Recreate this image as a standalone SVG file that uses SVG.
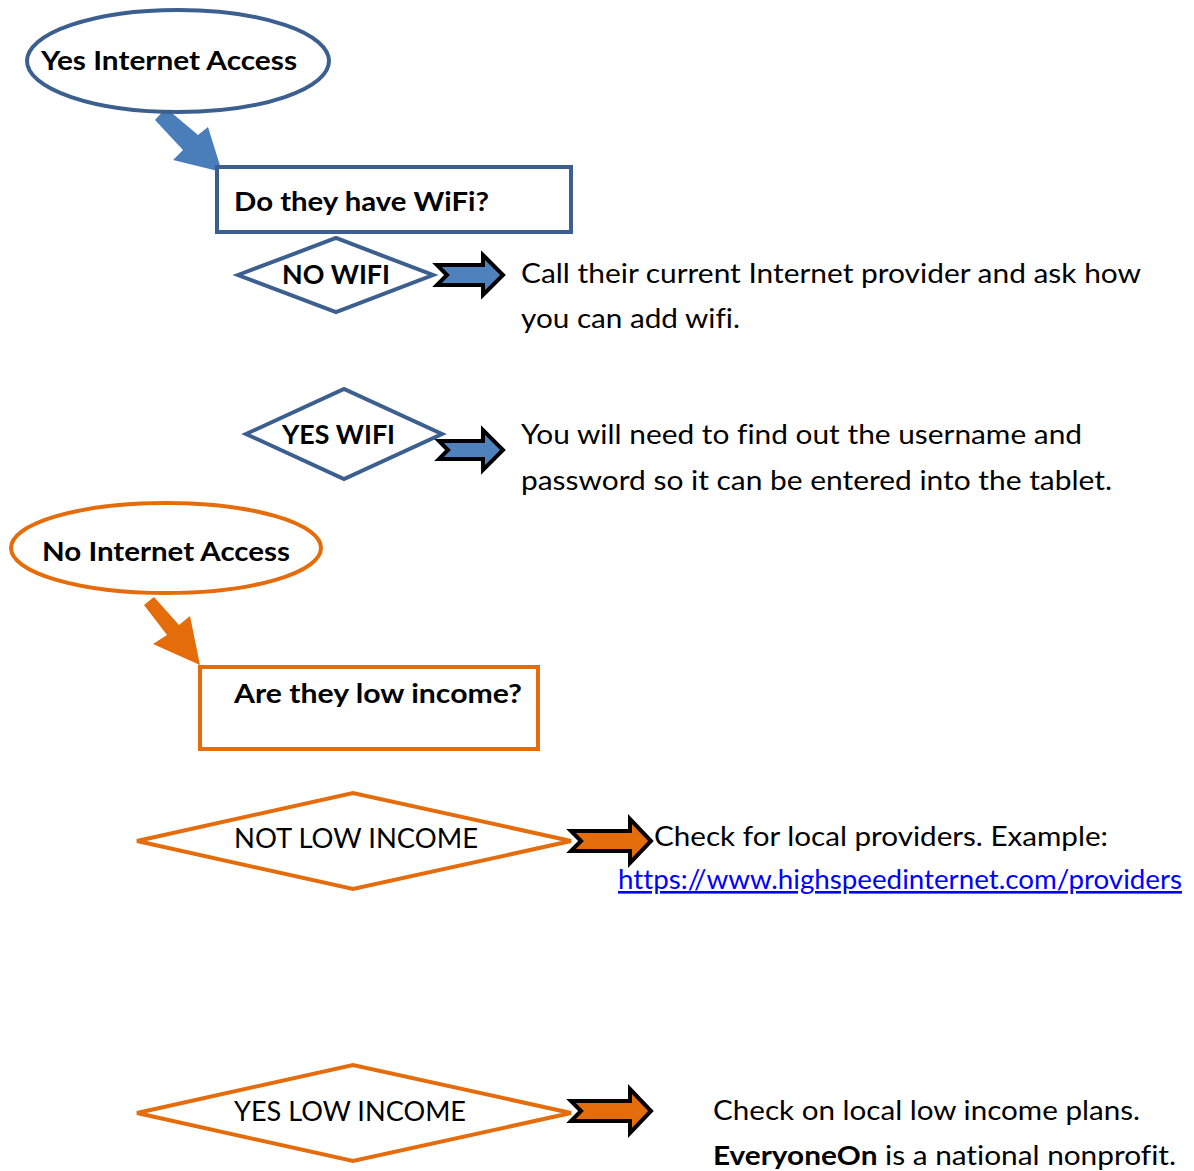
<svg xmlns="http://www.w3.org/2000/svg" width="1194" height="1171" viewBox="0 0 1194 1171">
<style>
  text { font-family: Lato, "Open Sans", "Liberation Sans", sans-serif; font-size: 26px; fill: #000; font-variant-ligatures: none; }
  .b { font-weight: bold; }
  .blue { fill: #fff; stroke: #3b5f8e; stroke-width: 4; }
  .orange { fill: #fff; stroke: #e46c0a; stroke-width: 4; }
  .barrow { fill: #4f81bd; stroke: #000; stroke-width: 4; stroke-linejoin: miter; }
  .oarrow { fill: #e46c0a; stroke: #000; stroke-width: 4; stroke-linejoin: miter; }
  .link { fill: #0000ff; text-decoration: underline; }
</style>
<rect width="1194" height="1171" fill="#fff"/>

<g id="connectors">
  <polygon fill="#4a7ebb" points="155,120 166,108 198,135 208,127 222,172 173,160 183,150"/>
  <polygon fill="#e46c0a" points="144,605 154,597 179,625 190,616 200,665 153,644 167,635"/>
  <polygon class="barrow" points="437,265 483,265 483,255 503,275 483,295 483,285 437,285 447,275"/>
  <polygon class="barrow" points="439,441 483,441 483,430 503,450 483,470 483,459 439,459 448,450"/>
  <polygon class="oarrow" points="571,831 630,831 630,819 651,841 630,863 630,851 571,851 581,841"/>
  <polygon class="oarrow" points="571,1101 630,1101 630,1089 651,1111 630,1133 630,1121 571,1121 581,1111"/>
</g>

<g id="yes-internet">
  <ellipse class="blue" cx="178" cy="61" rx="151" ry="51"/>
  <text class="b" x="41" y="70" textLength="256" lengthAdjust="spacingAndGlyphs">Yes Internet Access</text>
</g>

<g id="have-wifi">
  <rect class="blue" x="217" y="167" width="354" height="65"/>
  <text class="b" x="234" y="211" textLength="255" lengthAdjust="spacingAndGlyphs">Do they have WiFi?</text>
</g>

<g id="no-wifi">
  <polygon class="blue" points="238,275 336,238 433,275 336,312"/>
  <text class="b" x="282" y="284" textLength="108" lengthAdjust="spacingAndGlyphs">NO WIFI</text>
</g>

<g id="no-wifi-text">
  <text x="521" y="283" textLength="620" lengthAdjust="spacingAndGlyphs">Call their current Internet provider and ask how</text>
  <text x="521" y="328" textLength="219" lengthAdjust="spacingAndGlyphs">you can add wifi.</text>
</g>

<g id="yes-wifi">
  <polygon class="blue" points="246,434 344,389 442,434 344,479"/>
  <text class="b" x="282" y="444" textLength="113" lengthAdjust="spacingAndGlyphs">YES WIFI</text>
</g>

<g id="yes-wifi-text">
  <text x="521" y="444" textLength="561" lengthAdjust="spacingAndGlyphs">You will need to find out the username and</text>
  <text x="521" y="490" textLength="591" lengthAdjust="spacingAndGlyphs">password so it can be entered into the tablet.</text>
</g>

<g id="no-internet">
  <ellipse class="orange" cx="166" cy="548" rx="155" ry="45"/>
  <text class="b" x="42" y="561" textLength="248" lengthAdjust="spacingAndGlyphs">No Internet Access</text>
</g>

<g id="low-income">
  <rect class="orange" x="200" y="667" width="338" height="82"/>
  <text class="b" x="234" y="703" textLength="288" lengthAdjust="spacingAndGlyphs">Are they low income?</text>
</g>

<g id="not-low-income">
  <polygon class="orange" points="137,841 353,793 571,841 353,889"/>
  <text x="234" y="848" textLength="244" lengthAdjust="spacingAndGlyphs">NOT LOW INCOME</text>
</g>

<g id="not-low-income-text">
  <text x="654" y="846" textLength="454" lengthAdjust="spacingAndGlyphs">Check for local providers. Example:</text>
  <text class="link" x="618" y="889" textLength="564" lengthAdjust="spacingAndGlyphs">https://www.highspeedinternet.com/providers</text>
</g>

<g id="yes-low-income">
  <polygon class="orange" points="137,1113 353,1065 571,1113 353,1161"/>
  <text x="234" y="1121" textLength="232" lengthAdjust="spacingAndGlyphs">YES LOW INCOME</text>
</g>

<g id="yes-low-income-text">
  <text x="713" y="1120" textLength="427" lengthAdjust="spacingAndGlyphs">Check on local low income plans.</text>
  <text x="713" y="1165" textLength="463" lengthAdjust="spacingAndGlyphs"><tspan class="b">EveryoneOn</tspan> is a national nonprofit.</text>
</g>
</svg>
